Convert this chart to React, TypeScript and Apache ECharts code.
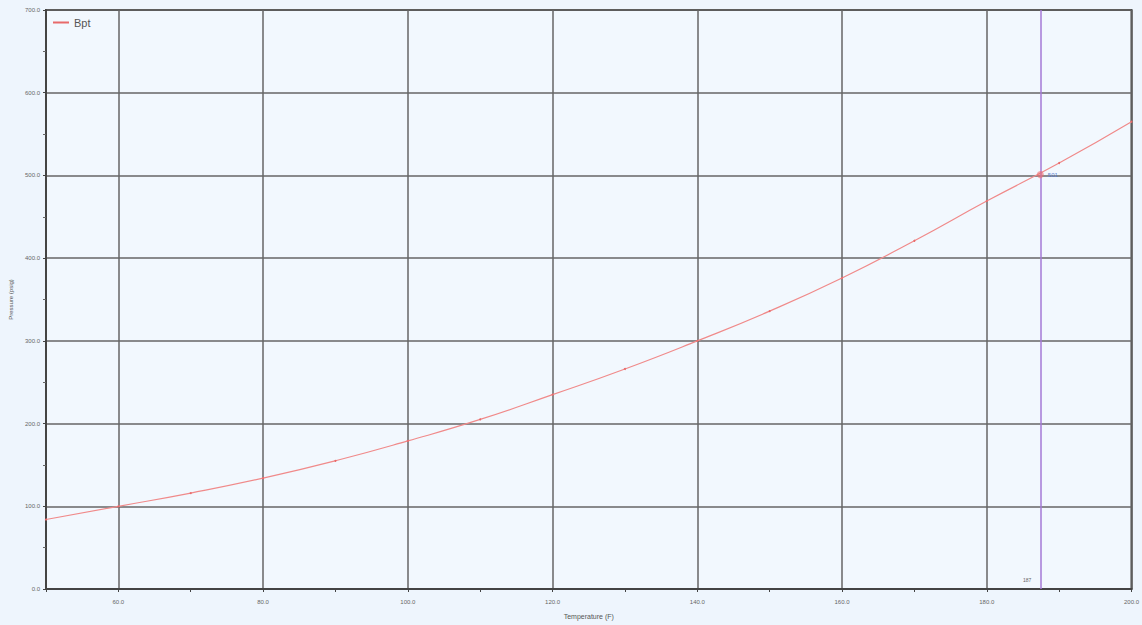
import React, { useEffect, useRef } from "react";
import * as echarts from "echarts";

const temperatures = [50, 60, 70, 80, 90, 100, 110, 120, 130, 140, 150, 160, 170, 180, 190, 200];
const pressures = [84, 100, 116, 134, 155, 179, 205, 235, 266, 300, 336, 376, 421, 469, 515, 565];
const seriesName = "Bpt";
const cursorTemp = 187.4;
const cursorPressure = 501;
const cursorLabel = "501";
const cursorTempLabel = "187";

export default function App() {
  const ref = useRef<HTMLDivElement>(null);
  useEffect(() => {
    document.body.style.margin = "0";
    const chart = echarts.init(ref.current!, null, { renderer: "svg" });
    const data = temperatures.map((t, i) => [t, pressures[i]]);
    chart.setOption({
      animation: false,
      backgroundColor: "#eef5fd",
      textStyle: { fontFamily: "Liberation Sans" },
      grid: {
        left: 44,
        right: 10,
        top: 10,
        bottom: 33,
        show: true,
        backgroundColor: "#f2f8fe",
        borderColor: "#444",
        borderWidth: 2,
      },
      legend: {
        left: 48,
        top: 12,
        itemWidth: 16,
        itemHeight: 2,
        itemGap: 4,
        icon: "rect",
        data: [seriesName],
        textStyle: { fontSize: 11, color: "#555" },
      },
      xAxis: {
        type: "value",
        min: 50,
        max: 200,
        interval: 10,
        name: "Temperature (F)",
        nameLocation: "middle",
        nameGap: 24,
        nameTextStyle: { fontSize: 7, color: "#555" },
        axisLine: { show: true, lineStyle: { color: "#444", width: 2 } },
        axisTick: { show: true, length: 3, lineStyle: { color: "#444" } },
        axisLabel: {
          fontSize: 6,
          color: "#666",
          margin: 10,
          formatter: (v: number) => (v % 20 === 0 ? v.toFixed(1) : ""),
        },
        splitLine: {
          show: true,
          lineStyle: { color: ["transparent", "#666"], width: 1.5 },
        },
      },
      yAxis: {
        type: "value",
        min: 0,
        max: 700,
        interval: 100,
        name: "Pressure (psig)",
        nameLocation: "middle",
        nameGap: 32,
        nameTextStyle: { fontSize: 6, color: "#555" },
        axisLine: { show: true, lineStyle: { color: "#444", width: 2 } },
        axisTick: { show: true, length: 3, lineStyle: { color: "#444" } },
        minorTick: { show: true, splitNumber: 2, length: 3, lineStyle: { color: "#666" } },
        axisLabel: {
          fontSize: 6,
          color: "#666",
          margin: 6,
          formatter: (v: number) => v.toFixed(1),
        },
        splitLine: { show: true, lineStyle: { color: "#666", width: 1.5 } },
      },
      series: [
        {
          name: seriesName,
          type: "line",
          data,
          smooth: true,
          symbol: "circle",
          symbolSize: 2,
          itemStyle: { color: "#e86a6a" },
          lineStyle: { color: "#f08a8a", width: 1.2 },
          markLine: {
            silent: true,
            symbol: "none",
            label: { show: false },
            lineStyle: { color: "#a57ad6", width: 1.5, type: "solid" },
            data: [{ xAxis: cursorTemp }],
          },
          markPoint: {
            symbol: "circle",
            symbolSize: 7,
            itemStyle: { color: "rgba(240,110,110,0.6)" },
            data: [
              {
                coord: [cursorTemp, cursorPressure],
                label: {
                  show: true,
                  position: "right",
                  formatter: cursorLabel,
                  fontSize: 6,
                  color: "#5a7fd0",
                  distance: 4,
                },
              },
              {
                coord: [cursorTemp, 0],
                symbolSize: 0,
                label: {
                  show: true,
                  position: "insideBottomRight",
                  offset: [-4, -2],
                  formatter: cursorTempLabel,
                  fontSize: 5,
                  color: "#666",
                },
              },
            ],
          },
        },
      ],
    });
    return () => chart.dispose();
  }, []);
  return <div ref={ref} style={{ position: "fixed", left: 0, top: 0, width: 1142, height: 625 }} />;
}
